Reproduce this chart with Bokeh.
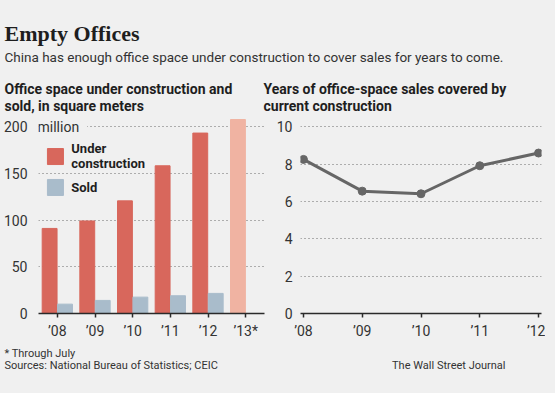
from bokeh.plotting import figure
from bokeh.layouts import column, row
from bokeh.models import Range1d, FixedTicker, Label, ColumnDataSource, GlobalInlineStyleSheet
from bokeh.transform import dodge
from bokeh.core.properties import value
from bokeh.embed import file_html
from bokeh.resources import INLINE

# ---- data ----
bar_years = ["\u201908", "\u201909", "\u201910", "\u201911", "\u201912", "\u201913*"]
under_construction = [91, 99, 120.5, 158, 193, 207.5]
sold = [10, 14, 17.5, 19, 21.5]
line_years = ["\u201908", "\u201909", "\u201910", "\u201911", "\u201912"]
years_covered = [8.25, 6.55, 6.41, 7.91, 8.59]
left_ticks = [0, 50, 100, 150, 200]
right_ticks = [0, 2, 4, 6, 8, 10]

# ---- style ----
BG = "#f0f0f0"
UC = "#d8675c"
UC_LIGHT = "#f0b3a2"
SOLD = "#a9bccb"
LINE = "#666666"
DARK = "#1e1e1e"
TXT = "#333333"
SANS = "Roboto"
SERIF = "Liberation Serif"
W = 539
HDR_H = 115
FRAME_H = 198
BOTTOM = 28
FTR_H = 30


def blank(width, height):
    p = figure(width=width, height=height, x_range=Range1d(0, width),
               y_range=Range1d(height, 0), output_backend="svg",
               toolbar_location=None, x_axis_type=None, y_axis_type=None,
               title=None,
               min_border=0, min_border_left=0, min_border_right=0,
               min_border_top=0, min_border_bottom=0)
    p.grid.visible = False
    p.outline_line_color = None
    p.background_fill_color = BG
    p.border_fill_color = BG
    return p


# ---- header ----
hdr = blank(W, HDR_H)
hdr.text(x=[4], y=[33], text=["Empty Offices"], text_font=value(SERIF),
         text_font_style="bold", text_font_size="22px", text_color=DARK,
         text_baseline="alphabetic")
hdr.text(x=[4], y=[56], text=["China has enough office space under construction to cover sales for years to come."],
         text_font=value(SANS), text_font_size="13.5px", text_color=TXT,
         text_baseline="alphabetic")
hdr.text(x=[4, 4], y=[88, 105], text=["Office space under construction and", "sold, in square meters"],
         text_font=value(SANS), text_font_style="bold", text_font_size="14px",
         text_color=DARK, text_baseline="alphabetic")
hdr.text(x=[263, 263], y=[88, 105], text=["Years of office-space sales covered by", "current construction"],
         text_font=value(SANS), text_font_style="bold", text_font_size="14px",
         text_color=DARK, text_baseline="alphabetic")


def style_chart(p):
    p.background_fill_color = BG
    p.border_fill_color = BG
    p.outline_line_color = None
    p.xgrid.visible = False
    p.ygrid.grid_line_color = "#6a6a6a"
    p.ygrid.grid_line_dash = "1 3"
    p.ygrid.grid_line_width = 1
    p.yaxis.axis_line_color = None
    p.yaxis.major_tick_line_color = None
    p.yaxis.minor_tick_line_color = None
    p.yaxis.major_label_text_font = SANS
    p.yaxis.major_label_text_font_size = "14px"
    p.yaxis.major_label_text_color = TXT
    p.xaxis.axis_line_color = "#2a2a2a"
    p.xaxis.axis_line_width = 1.5
    p.xaxis.major_tick_line_color = "#2a2a2a"
    p.xaxis.major_tick_line_width = 1.5
    p.xaxis.major_tick_out = 4
    p.xaxis.major_tick_in = 0
    p.xaxis.minor_tick_line_color = None
    p.xaxis.major_label_text_font = SANS
    p.xaxis.major_label_text_font_size = "14px"
    p.xaxis.major_label_text_color = TXT
    p.xaxis.major_label_standoff = 5


# ---- left chart: bars ----
lp = figure(frame_width=226, frame_height=FRAME_H, x_range=Range1d(-0.5, 5.5),
            y_range=Range1d(0, 211.8), output_backend="svg", toolbar_location=None,
            title=None,
            min_border_left=32, min_border_right=4, min_border_top=0,
            min_border_bottom=BOTTOM)
style_chart(lp)
uc_src = ColumnDataSource(dict(x=list(range(len(bar_years))), top=under_construction,
                               color=[UC] * (len(bar_years) - 1) + [UC_LIGHT]))
sold_src = ColumnDataSource(dict(x=list(range(len(sold))), top=sold))
lp.vbar(x=dodge("x", -0.205, range=lp.x_range), top="top", width=0.395, color="color",
        source=uc_src)
lp.vbar(x=dodge("x", 0.205, range=lp.x_range), top="top", width=0.395, color=SOLD,
        source=sold_src)
lp.xaxis.ticker = FixedTicker(ticks=list(range(len(bar_years))))
lp.xaxis.major_label_overrides = {i: t for i, t in enumerate(bar_years)}
lp.yaxis.ticker = FixedTicker(ticks=left_ticks)
lp.ygrid.ticker = FixedTicker(ticks=left_ticks)
lp.yaxis.major_label_standoff = 5
lp.add_layout(Label(x=-0.5, y=left_ticks[-1], text="million", text_baseline="middle",
                    text_align="left", x_offset=-1, text_font=SANS,
                    text_font_size="14px", text_color=TXT,
                    background_fill_color=BG,
                    padding=dict(left=0, right=8, top=2, bottom=2)))
# legend
lp.scatter(x=[-0.05, -0.05], y=[167.9, 134.8], marker="square", size=16,
           color=[UC, SOLD])
lp.text(x=[0.37, 0.37, 0.37], y=[176.5, 160.4, 134.8],
        text=["Under", "construction", "Sold"], text_font=value(SANS),
        text_font_style="bold", text_font_size="13px", text_color=DARK,
        text_baseline="middle")

# ---- right chart: line ----
rp = figure(frame_width=241, frame_height=FRAME_H, x_range=Range1d(-0.05, 4.05),
            y_range=Range1d(0, 10.6), output_backend="svg", toolbar_location=None,
            title=None,
            min_border_left=32, min_border_right=4, min_border_top=0,
            min_border_bottom=BOTTOM)
style_chart(rp)
xs = list(range(len(line_years)))
rp.line(x=xs, y=years_covered, line_width=3, color=LINE)
rp.scatter(x=xs, y=years_covered, size=8, color=LINE)
rp.xaxis.ticker = FixedTicker(ticks=xs)
rp.xaxis.major_label_overrides = {i: t for i, t in enumerate(line_years)}
rp.yaxis.ticker = FixedTicker(ticks=right_ticks)
rp.ygrid.ticker = FixedTicker(ticks=right_ticks)
rp.yaxis.major_label_standoff = 2

# ---- footer ----
ftr = blank(W, FTR_H)
ftr.text(x=[4], y=[12], text=["* Through July"], text_font=value(SANS),
         text_font_size="11px", text_color=TXT, text_baseline="alphabetic")
ftr.text(x=[4], y=[24], text=["Sources: National Bureau of Statistics; CEIC"],
         text_font=value(SANS), text_font_size="11px", text_color=TXT,
         text_baseline="alphabetic")
ftr.text(x=[505], y=[24], text=["The Wall Street Journal"], text_font=value(SANS),
         text_font_size="11px", text_color=TXT, text_baseline="alphabetic",
         text_align="right")

layout = column(hdr, row(lp, rp), ftr)
layout.stylesheets = [GlobalInlineStyleSheet(css="html, body { background-color: #f0f0f0; }")]

open("out.html", "w").write(file_html(layout, INLINE))
